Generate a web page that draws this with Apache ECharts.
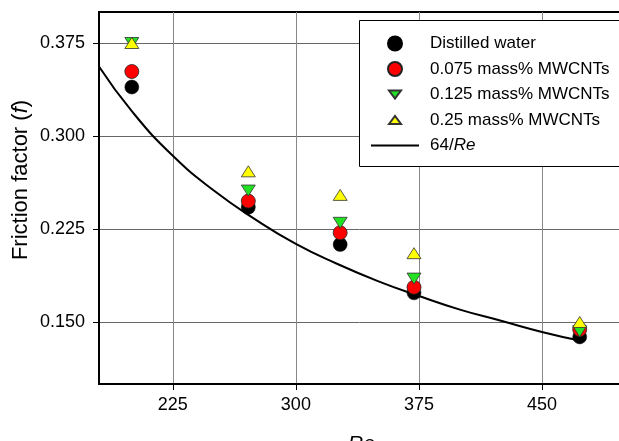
<!DOCTYPE html>
<html lang="en">
<head>
<meta charset="UTF-8">
<title>Friction factor</title>
<script src="https://cdn.jsdelivr.net/npm/echarts@6/dist/echarts.min.js"></script>
<style>html,body{margin:0;padding:0;background:#fff}#main{width:619px;height:441px}</style>
</head>
<body>
<div id="main"></div>
<script>
// values
var reValues = [200, 271, 327, 372, 473];
var water = [0.3395, 0.2425, 0.2125, 0.1735, 0.138];
var mw075 = [0.352, 0.2475, 0.222, 0.178, 0.144];
var mw125 = [0.375, 0.256, 0.230, 0.185, 0.1425];
var mw25 = [0.375, 0.2715, 0.2525, 0.2055, 0.150];
var curveRe = [180, 200, 225, 250, 275, 300, 325, 350, 375, 400, 425, 450, 473];
var curveF = [0.356, 0.320, 0.284, 0.256, 0.233, 0.213, 0.197, 0.183, 0.171, 0.160, 0.151, 0.142, 0.135];
var xTicks = [225, 300, 375, 450];
var yTicks = [0.150, 0.225, 0.300, 0.375];
var names = ['Distilled water', '0.075 mass% MWCNTs', '0.125 mass% MWCNTs', '0.25 mass% MWCNTs', '64/Re'];

function pairs(xs, ys) {
    return xs.map(function (x, i) { return [x, ys[i]]; });
}

var font = 'Liberation Sans, Arial, sans-serif';
// legend icons padded inside a 14x14 box so they stay small
var upTri = 'path://M0,0M14,14M1,11L7,3L13,11Z';
var downTri = 'path://M0,0M14,14M1,3L13,3L7,11Z';
var lineIcon = 'path://M0,0L48,0L48,2L0,2Z';

var chart = echarts.init(document.getElementById('main'));

var option = {
    animation: false,
    grid: {
        left: 99, top: 12, width: 525, bottom: 57,
        outerBoundsMode: 'none', containLabel: false,
        show: true, borderColor: '#000', borderWidth: 2
    },
    xAxis: {
        type: 'value', min: 180, max: 500,
        name: 'Re', nameLocation: 'middle', nameGap: 50,
        nameTextStyle: { fontSize: 21, fontStyle: 'italic', color: '#000', fontFamily: font },
        axisLine: { show: true, onZero: false, lineStyle: { color: '#000', width: 2 } },
        axisTick: { show: true, length: 6, customValues: xTicks, lineStyle: { color: '#000' } },
        axisLabel: { customValues: xTicks, fontSize: 18, color: '#000', margin: 12, fontFamily: font },
        splitLine: { show: true, lineStyle: { color: '#888', width: 1 } }
    },
    yAxis: {
        type: 'value', min: 0.1, max: 0.4,
        axisLine: { show: true, onZero: false, lineStyle: { color: '#000', width: 2 } },
        axisTick: { show: true, length: 6, customValues: yTicks, lineStyle: { color: '#000' } },
        axisLabel: {
            customValues: yTicks, fontSize: 18, color: '#000', margin: 14, fontFamily: font,
            formatter: function (v) { return v.toFixed(3); }
        },
        splitLine: { show: true, lineStyle: { color: '#666', width: 1 } }
    },
    legend: {
        orient: 'vertical', left: 366, top: 28.5,
        itemWidth: 48, itemHeight: 14, itemGap: 5.5, symbolRotate: 0,
        textStyle: {
            fontSize: 17, color: '#000', lineHeight: 20, padding: [0, 0, 0, 6], fontFamily: font,
            rich: { i: { fontStyle: 'italic', fontSize: 17, fontFamily: font } }
        },
        formatter: function (n) { return n === '64/Re' ? '64/{i|Re}' : n; },
        data: [
            { name: names[0] },
            { name: names[1] },
            { name: names[2], icon: downTri },
            { name: names[3], icon: upTri },
            { name: names[4], icon: lineIcon }
        ]
    },
    graphic: [
        {
            type: 'rect', z: 3,
            shape: { x: 359.5, y: 20.5, width: 270, height: 146 },
            style: { fill: '#fff', stroke: '#000', lineWidth: 1 }
        },
        {
            type: 'text', x: 21, y: 180, rotation: Math.PI / 2,
            style: {
                text: 'Friction factor ({i|f})',
                rich: { i: { fontStyle: 'italic', fontSize: 22, fontFamily: font } },
                fontSize: 22, fontFamily: font, fill: '#000',
                align: 'center', verticalAlign: 'middle'
            }
        }
    ],
    series: [
        {
            name: names[4], type: 'line', data: pairs(curveRe, curveF),
            smooth: true, symbol: 'none', z: 1,
            lineStyle: { color: '#000', width: 2 }, itemStyle: { color: '#000' }
        },
        {
            name: names[0], type: 'scatter', data: pairs(reValues, water),
            symbol: 'circle', symbolSize: 14,
            itemStyle: { color: '#000', borderColor: '#000', borderWidth: 0.5, opacity: 1 }
        },
        {
            name: names[1], type: 'scatter', data: pairs(reValues, mw075),
            symbol: 'circle', symbolSize: 14,
            itemStyle: { color: '#f00', borderColor: '#222', borderWidth: 0.8, opacity: 1 }
        },
        {
            name: names[2], type: 'scatter', data: pairs(reValues, mw125),
            symbol: 'triangle', symbolRotate: 180, symbolSize: [14, 11],
            itemStyle: { color: '#22e022', borderColor: '#333', borderWidth: 0.8, opacity: 1 }
        },
        {
            name: names[3], type: 'scatter', data: pairs(reValues, mw25),
            symbol: 'triangle', symbolSize: [14, 11],
            itemStyle: { color: '#ffff00', borderColor: '#333', borderWidth: 0.8, opacity: 1 }
        }
    ]
};

chart.setOption(option);
</script>
</body>
</html>
